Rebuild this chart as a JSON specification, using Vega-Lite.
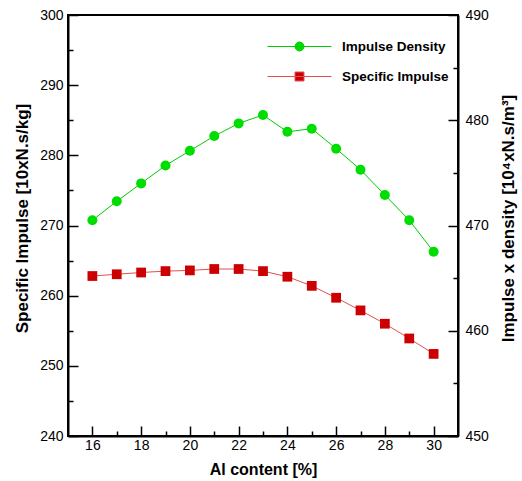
{
  "$schema": "https://vega.github.io/schema/vega-lite/v6.json",
  "width": 390,
  "height": 421,
  "autosize": "none",
  "padding": {"left": 68, "top": 15, "right": 64, "bottom": 45},
  "background": "white",
  "config": {
    "view": {"stroke": "black", "strokeWidth": 2},
    "font": "Liberation Sans",
    "axis": {
      "grid": false,
      "domainColor": "black",
      "domainWidth": 2,
      "tickColor": "black",
      "tickWidth": 1.5,
      "labelColor": "black",
      "labelFont": "Liberation Sans",
      "labelFontSize": 14,
      "labelFlush": false,
      "labelOverlap": false,
      "labelBound": false,
      "titleColor": "black",
      "titleFont": "Liberation Sans",
      "titleFontWeight": "bold"
    }
  },
  "data": {
    "values": [
      {"al": 16, "series": "Impulse Density", "value": 470.5},
      {"al": 17, "series": "Impulse Density", "value": 472.3},
      {"al": 18, "series": "Impulse Density", "value": 474.0},
      {"al": 19, "series": "Impulse Density", "value": 475.7},
      {"al": 20, "series": "Impulse Density", "value": 477.1},
      {"al": 21, "series": "Impulse Density", "value": 478.5},
      {"al": 22, "series": "Impulse Density", "value": 479.7},
      {"al": 23, "series": "Impulse Density", "value": 480.5},
      {"al": 24, "series": "Impulse Density", "value": 478.9},
      {"al": 25, "series": "Impulse Density", "value": 479.2},
      {"al": 26, "series": "Impulse Density", "value": 477.3},
      {"al": 27, "series": "Impulse Density", "value": 475.3},
      {"al": 28, "series": "Impulse Density", "value": 472.9},
      {"al": 29, "series": "Impulse Density", "value": 470.5},
      {"al": 30, "series": "Impulse Density", "value": 467.5},
      {"al": 16, "series": "Specific Impulse", "value": 262.8},
      {"al": 17, "series": "Specific Impulse", "value": 263.05},
      {"al": 18, "series": "Specific Impulse", "value": 263.3},
      {"al": 19, "series": "Specific Impulse", "value": 263.5},
      {"al": 20, "series": "Specific Impulse", "value": 263.6},
      {"al": 21, "series": "Specific Impulse", "value": 263.8},
      {"al": 22, "series": "Specific Impulse", "value": 263.8},
      {"al": 23, "series": "Specific Impulse", "value": 263.5},
      {"al": 24, "series": "Specific Impulse", "value": 262.7},
      {"al": 25, "series": "Specific Impulse", "value": 261.4},
      {"al": 26, "series": "Specific Impulse", "value": 259.7},
      {"al": 27, "series": "Specific Impulse", "value": 257.9},
      {"al": 28, "series": "Specific Impulse", "value": 256.0},
      {"al": 29, "series": "Specific Impulse", "value": 253.9},
      {"al": 30, "series": "Specific Impulse", "value": 251.7}
    ]
  },
  "encoding": {
    "x": {
      "field": "al",
      "type": "quantitative",
      "scale": {"domain": [15, 31], "nice": false, "zero": false},
      "axis": {
        "values": [16, 17, 18, 19, 20, 21, 22, 23, 24, 25, 26, 27, 28, 29, 30],
        "labelExpr": "datum.value % 2 === 0 ? datum.label : ''",
        "tickSize": {"condition": {"test": "datum.value % 2 === 0", "value": -10}, "value": -5},
        "labelPadding": 12,
        "title": "Al content [%]",
        "titleFontSize": 16,
        "titlePadding": 4
      }
    }
  },
  "layer": [
    {
      "transform": [{"filter": "datum.series === 'Specific Impulse'"}],
      "encoding": {
        "y": {
          "field": "value",
          "type": "quantitative",
          "scale": {"domain": [240, 300], "nice": false, "zero": false},
          "axis": {
            "orient": "left",
            "values": [240, 245, 250, 255, 260, 265, 270, 275, 280, 285, 290, 295, 300],
            "labelExpr": "datum.value % 10 === 0 ? datum.label : ''",
            "tickSize": {"condition": {"test": "datum.value % 10 === 0", "value": -10}, "value": -5},
            "labelPadding": 15,
            "title": "Specific Impulse [10xN.s/kg]",
            "titleFontSize": 17,
            "titlePadding": 8,
            "titleY": 203
          }
        }
      },
      "layer": [
        {"mark": {"type": "line", "color": "#e05050", "strokeWidth": 1}},
        {
          "mark": {"type": "point", "shape": "square", "filled": true, "size": 95, "opacity": 1},
          "encoding": {
            "color": {
              "datum": "Specific Impulse",
              "scale": {"range": ["#cc0000"]},
              "legend": {
                "orient": "none",
                "legendX": 199,
                "legendY": 29,
                "title": null,
                "padding": 0,
                "symbolType": "M-1,0H1M-0.14,-0.14H0.14V0.14H-0.14Z",
                "symbolSize": 4096,
                "symbolStrokeColor": "#e05050",
                "symbolStrokeWidth": 1,
                "labelFont": "Liberation Sans",
                "labelFontWeight": "bold",
                "labelFontSize": 13.5,
                "labelColor": "black",
                "labelOffset": 10
              }
            }
          }
        }
      ]
    },
    {
      "transform": [{"filter": "datum.series === 'Impulse Density'"}],
      "encoding": {
        "y": {
          "field": "value",
          "type": "quantitative",
          "scale": {"domain": [450, 490], "nice": false, "zero": false},
          "axis": {
            "orient": "right",
            "values": [450, 455, 460, 465, 470, 475, 480, 485, 490],
            "labelExpr": "datum.value % 10 === 0 ? datum.label : ''",
            "tickSize": {"condition": {"test": "datum.value % 10 === 0", "value": -10}, "value": -5},
            "labelPadding": 17,
            "title": "Impulse x density [10⁴xN.s/m³]",
            "titleFontSize": 17,
            "titleAngle": 270,
            "titleBaseline": "top",
            "titlePadding": 12,
            "titleY": 203
          }
        }
      },
      "layer": [
        {"mark": {"type": "line", "color": "#00cc00", "strokeWidth": 1}},
        {
          "mark": {"type": "point", "shape": "circle", "filled": true, "size": 100, "opacity": 1},
          "encoding": {
            "color": {
              "datum": "Impulse Density",
              "scale": {"range": ["#00dd00"]},
              "legend": {
                "orient": "none",
                "legendX": 199,
                "legendY": -1,
                "title": null,
                "padding": 0,
                "symbolType": "M-1,0H1M0.14,0A0.14,0.14 0 1,1 -0.14,0A0.14,0.14 0 1,1 0.14,0Z",
                "symbolSize": 4096,
                "symbolStrokeColor": "#00cc00",
                "symbolStrokeWidth": 1,
                "labelFont": "Liberation Sans",
                "labelFontWeight": "bold",
                "labelFontSize": 13.5,
                "labelColor": "black",
                "labelOffset": 10
              }
            }
          }
        }
      ]
    }
  ],
  "resolve": {
    "scale": {"y": "independent", "color": "independent"},
    "axis": {"y": "independent"},
    "legend": {"color": "independent"}
  }
}
